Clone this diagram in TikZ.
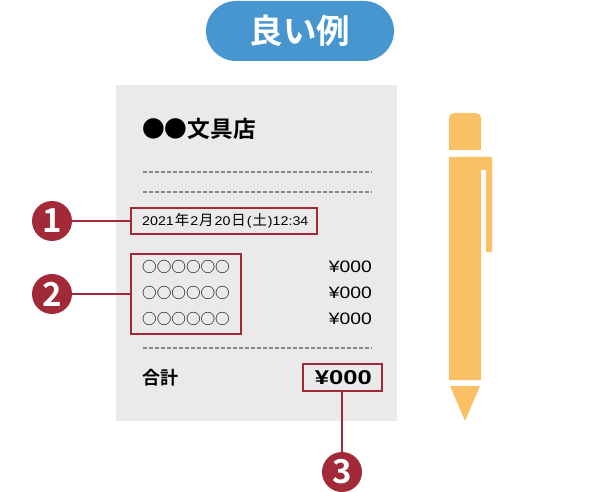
\documentclass[tikz,border=0pt]{standalone}
\usepackage{fontspec}
\setmainfont{Noto Sans CJK JP}[BoldFont={Noto Sans CJK JP Bold}]
\newfontfamily\latinfont{Liberation Sans}[FakeStretch=1.13]
\newfontfamily\pricefont{Liberation Sans}[FakeStretch=1.17]
\newfontfamily\sumfont{Liberation Sans Bold}[FakeStretch=1.28]
\usepackage{tikz}
\definecolor{GoodBlue}{RGB}{72,150,208}
\definecolor{PaperGray}{RGB}{234,234,234}
\definecolor{MarkRed}{RGB}{162,41,56}
\definecolor{PenOrange}{RGB}{249,192,101}
\definecolor{DashGray}{RGB}{135,135,135}
\newcommand{\dg}[1]{{\latinfont\fontsize{12.6}{14}\selectfont #1}}
\newcommand{\kj}[1]{\hspace{1pt}#1\hspace{1pt}}

\begin{document}
\begin{tikzpicture}[x=1pt,y=-1pt,
mark box/.style={draw=MarkRed,line width=2pt,rectangle,inner sep=0pt},
mark num/.style={fill=MarkRed,circle,minimum size=40pt,inner sep=0pt,text=white,font=\bfseries\fontsize{33}{33}\selectfont},
mark line/.style={draw=MarkRed,line width=2pt},
dash line/.style={draw=DashGray,line width=1.2pt,dash pattern=on 4pt off 2pt},
receipt/.style={inner sep=0pt,anchor=west},
pen part/.style={fill=PenOrange}]
\useasboundingbox (0,0) rectangle (600,492);
\fill[PaperGray] (116,85) rectangle (397,421);
\node[fill=GoodBlue,rounded corners=30pt,minimum width=188pt,minimum height=60pt,inner sep=0pt,text=white,font=\bfseries\fontsize{33.5}{33}\selectfont](title) at (300,31) {良い例};
\node[receipt,font=\bfseries\fontsize{22.7}{24}\selectfont](shop) at (142,129) {●●文具店};
\foreach \y in {172,192,348} {
   \draw[dash line] (143,\y) -- (372,\y);
}
\node[mark box,minimum width=186pt,minimum height=26pt](datebox) at (224,221) {};
\node[receipt,font=\fontsize{14.4}{14}\selectfont](date) at (142,220.5) {\dg{2021}\kj{年}\dg{2}\kj{月}\dg{20}\kj{日}\dg{(}\kj{土}\dg{)12:34}};
\node[mark box,minimum width=110pt,minimum height=80pt](itembox) at (186,294) {};
\foreach \y/\n in {267/a,293/b,319/c} {
   \node[receipt,font=\fontsize{14.6}{15}\selectfont](item\n) at (142,\y) {○○○○○○};
   \node[inner sep=0pt,anchor=east,font=\pricefont\fontsize{16.5}{16}\selectfont](price\n) at (372,\y) {¥000};
}
\node[receipt,font=\bfseries\fontsize{18}{18}\selectfont](sumlabel) at (142,378) {合計};
\node[mark box,minimum width=79pt,minimum height=27pt](sumbox) at (342,377.5) {};
\node[inner sep=0pt,anchor=east,font=\sumfont\fontsize{20}{20}\selectfont](sumprice) at (372,377.5) {¥000};
\node[mark num](num1) at (52,221) {1};
\node[mark num](num2) at (52,294) {2};
\node[mark num](num3) at (342,472) {3};
\draw[mark line] (num1) -- (datebox);
\draw[mark line] (num2) -- (itembox);
\draw[mark line] (sumbox) -- (num3);
% pen
\fill[pen part] (449,150) -- (449,118) arc[start angle=180,end angle=270,radius=5] -- (476,113) arc[start angle=270,end angle=360,radius=5] -- (481,150) -- cycle;
\fill[pen part] (449,157) -- (492,157) -- (492,252) -- (486,252) -- (486,170) -- (481,170) -- (481,380) -- (449,380) -- cycle;
\fill[pen part] (450,386) -- (480,386) -- (465,421) -- cycle;
\end{tikzpicture}
\end{document}
